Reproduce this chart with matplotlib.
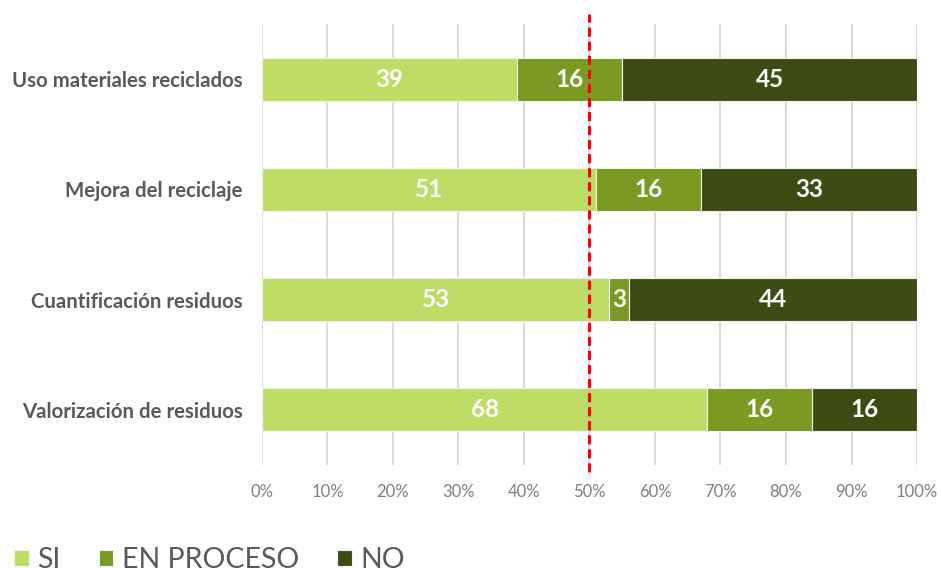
import matplotlib
matplotlib.use('Agg')
import matplotlib.pyplot as plt
import numpy as np

categories = ['Uso materiales reciclados', 'Mejora del reciclaje',
              'Cuantificación residuos', 'Valorización de residuos']
si = [39, 51, 53, 68]
en_proceso = [16, 16, 3, 16]
no = [45, 33, 44, 16]
series_names = ['SI', 'EN PROCESO', 'NO']
colors = ['#bddc65', '#7a9a23', '#3d4c13']
threshold = 50

plt.rcParams['font.family'] = ['Lato', 'DejaVu Sans']

fig = plt.figure(figsize=(9.41, 5.68), dpi=100)
ax = fig.add_axes([0.2784, 0.1813, 0.6961, 0.7764])

y = np.arange(len(categories))
left = np.zeros(len(categories))
for name, vals, col in zip(series_names, [si, en_proceso, no], colors):
    vals = np.array(vals, dtype=float)
    ax.barh(y, vals, left=left, height=0.39, color=col, edgecolor='#f2f2f2',
            linewidth=0.8, label=name, zorder=2)
    for yi, l, v in zip(y, left, vals):
        ax.text(l + v / 2, yi, f'{int(v)}', ha='center', va='center',
                color='white', fontsize=17.5, fontweight='bold', zorder=4)
    left += vals

# reference line at 50%
ax.axvline(threshold, ymin=-0.016, ymax=1.023, color='#ff0000', lw=2.2,
           ls=(0, (3, 1.6)), clip_on=False, zorder=3)

ax.set_xlim(0, 100)
ax.set_ylim(len(categories) - 0.5, -0.5)
ax.set_xticks(np.arange(0, 101, 10))
ax.set_xticklabels([f'{t}%' for t in range(0, 101, 10)])
ax.set_yticks(y)
ax.set_yticklabels(categories)
ax.tick_params(axis='x', length=0, pad=14, labelsize=12, labelcolor='#7f7f7f')
ax.tick_params(axis='y', length=0, pad=14, labelsize=14.7, labelcolor='#595959')
for lbl in ax.get_yticklabels():
    lbl.set_fontweight('bold')
ax.grid(axis='x', color='#d9d9d9', lw=1.4, zorder=0)
ax.set_axisbelow(True)
for s in ax.spines.values():
    s.set_visible(False)

fig.legend(loc='lower left', bbox_to_anchor=(-0.012, -0.054), ncol=3,
           frameon=False, fontsize=20.5, handlelength=0.5, handleheight=0.5,
           handletextpad=0.3, columnspacing=1.35, labelcolor='#595959')

fig.savefig('out.png', dpi=100)
